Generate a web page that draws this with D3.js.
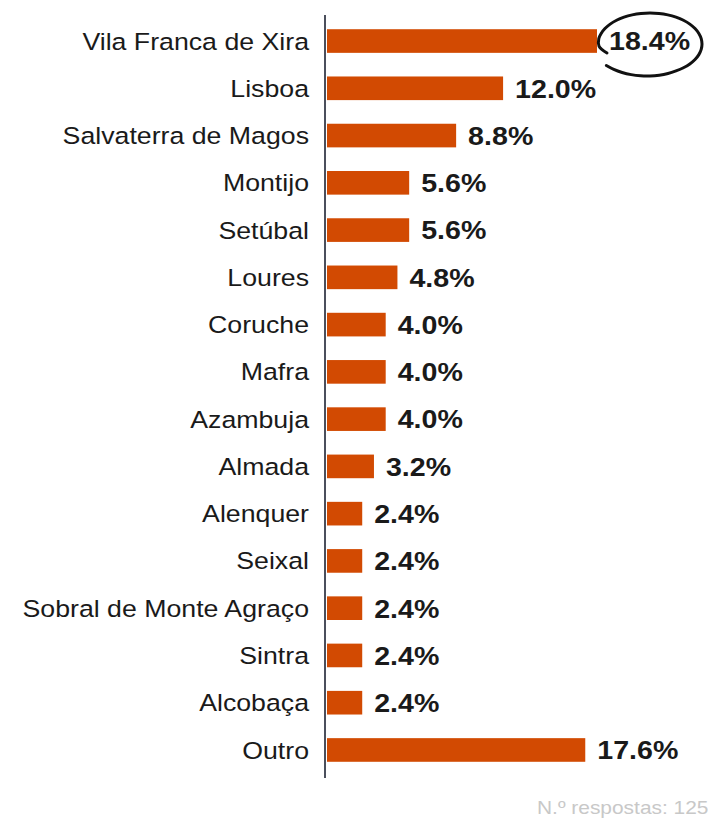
<!DOCTYPE html>
<html>
<head>
<meta charset="utf-8">
<script src="https://cdn.jsdelivr.net/npm/d3@7"></script>
<style>
  html, body { margin: 0; padding: 0; background: #ffffff; }
  svg { display: block; }
</style>
</head>
<body>
<svg id="chart" width="708" height="820"></svg>
<script>
const categories = [
  "Vila Franca de Xira", "Lisboa", "Salvaterra de Magos", "Montijo", "Setúbal",
  "Loures", "Coruche", "Mafra", "Azambuja", "Almada", "Alenquer", "Seixal",
  "Sobral de Monte Agraço", "Sintra", "Alcobaça", "Outro"
];
const values = [18.4, 12.0, 8.8, 5.6, 5.6, 4.8, 4.0, 4.0, 4.0, 3.2, 2.4, 2.4, 2.4, 2.4, 2.4, 17.6];
const highlighted = ["Vila Franca de Xira"];
const footnote = "N.º respostas: 125";

const data = categories.map((c, i) => ({ category: c, value: values[i] }));

const svg = d3.select("#chart");
const axisX = 325;
const stretch = 1.09;

function widen(sel, k) {
  sel.each(function () {
    const w = this.getComputedTextLength();
    d3.select(this).attr("textLength", w * k).attr("lengthAdjust", "spacingAndGlyphs");
  });
}

const x = d3.scaleLinear().domain([0, 18.4]).range([axisX + 2, 597]);
const y = d3.scaleBand()
  .domain(categories)
  .range([17.4, 773.6])
  .paddingInner(0.5)
  .paddingOuter(0.25);

const barColor = "#d24a02";

// bars
svg.append("g").selectAll("rect")
  .data(data)
  .join("rect")
  .attr("x", x(0))
  .attr("y", d => y(d.category))
  .attr("width", d => x(d.value) - x(0))
  .attr("height", y.bandwidth())
  .attr("fill", barColor);

// axis line (category axis)
const yAxis = d3.axisLeft(y).tickSize(0).tickPadding(16);
const gAxis = svg.append("g")
  .attr("transform", `translate(${axisX},0)`)
  .call(yAxis);
gAxis.select(".domain")
  .attr("d", `M0,15V778`)
  .attr("stroke", "#4b4f5c")
  .attr("stroke-width", 2);
gAxis.selectAll(".tick text")
  .attr("font-family", "Liberation Sans, Arial, sans-serif")
  .attr("font-size", 24.5)
  .attr("fill", "#1a1a1a")
  .attr("dy", "0.35em")
  .call(widen, stretch);

// value labels
svg.append("g").selectAll("text")
  .data(data)
  .join("text")
  .attr("x", d => x(d.value) + 12)
  .attr("y", d => y(d.category) + y.bandwidth() / 2)
  .attr("dy", "0.36em")
  .attr("font-family", "Liberation Sans, Arial, sans-serif")
  .attr("font-weight", "bold")
  .attr("font-size", 26)
  .attr("fill", "#1a1a1a")
  .text(d => d.value.toFixed(1) + "%")
  .call(widen, 1.1);

// hand-drawn ellipse around highlighted value
highlighted.forEach(cat => {
  const d = data.find(e => e.category === cat);
  const cx = x(d.value) + 53, cy = y(cat) + y.bandwidth() / 2 + 3;
  const rx = 52, ry = 31;
  const pts = [];
  pts.push([cx - rx + 9, cy + 9]);
  pts.push([cx - rx + 1, cy + 2]);
  for (let a = 190; a <= 500; a += 10) {
    const t = a * Math.PI / 180;
    const grow = a > 420 ? (a - 420) / 80 * 5 : 0;
    pts.push([cx + (rx + grow) * Math.cos(t), cy + (ry + grow * 0.5) * Math.sin(t)]);
  }
  const line = d3.line().curve(d3.curveCatmullRom);
  svg.append("path")
    .attr("d", line(pts))
    .attr("fill", "none")
    .attr("stroke", "#111")
    .attr("stroke-width", 3)
    .attr("stroke-linecap", "round");
});

// footnote
svg.append("text")
  .attr("x", 537)
  .attr("y", 814)
  .attr("font-family", "Liberation Sans, Arial, sans-serif")
  .attr("font-size", 19)
  .attr("fill", "#c8c8c8")
  .text(footnote)
  .call(widen, 1.1);
</script>
</body>
</html>
